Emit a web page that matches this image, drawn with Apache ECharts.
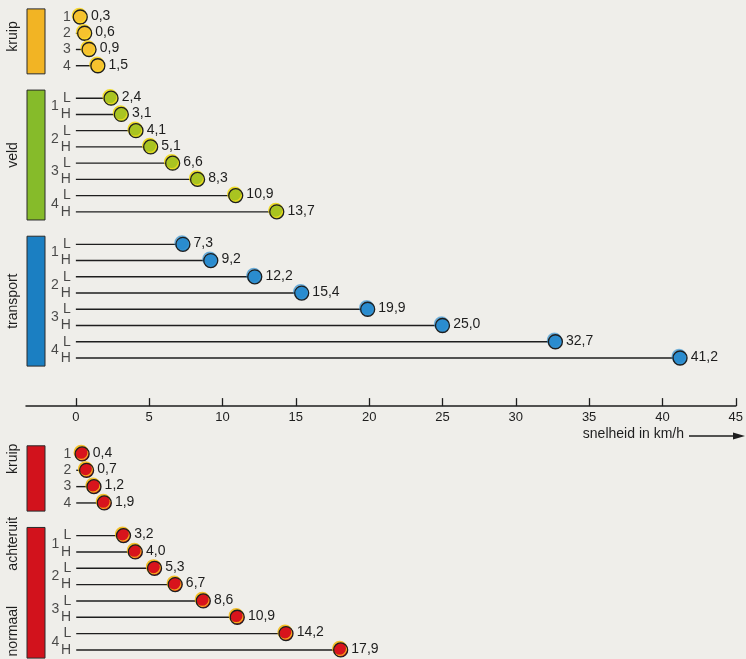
<!DOCTYPE html>
<html>
<head>
<meta charset="utf-8">
<script src="https://cdn.jsdelivr.net/npm/echarts@6/dist/echarts.min.js"></script>
<style>
  html, body { margin: 0; padding: 0; background: #efeeea; }
  #main { width: 746px; height: 659px; }
</style>
</head>
<body>
<div id="main"></div>
<script>
// snelheden in km/h, per versnelling
var speedTicks = [0, 5, 10, 15, 20, 25, 30, 35, 40, 45];
var kruipVooruit = [0.3, 0.6, 0.9, 1.5];
var veld = [2.4, 3.1, 4.1, 5.1, 6.6, 8.3, 10.9, 13.7];
var transport = [7.3, 9.2, 12.2, 15.4, 19.9, 25.0, 32.7, 41.2];
var kruipAchteruit = [0.4, 0.7, 1.2, 1.9];
var normaal = [3.2, 4.0, 5.3, 6.7, 8.6, 10.9, 14.2, 17.9];
var gears = ['1', '2', '3', '4'];
var ranges = ['L', 'H'];

var FONT = '"Liberation Sans", Arial, sans-serif';
var INK = '#1e1e1e';

var myChart = echarts.init(document.getElementById('main'));

function rowsOf(values, startRow) {
    return values.map(function (v, i) { return [v, startRow + i]; });
}

// rij-labels: versnelling en L/H
function gearLabels(startRow, count) {
    return gears.slice(0, count).map(function (g, i) { return { value: [0, startRow + i], name: g, dist: 5 }; });
}
function rangeRowLabels(startRow) {
    var out = [];
    gears.forEach(function (g, i) {
        out.push({ value: [0, startRow + i * 2], name: ranges[0], dist: 5 });
        out.push({ value: [0, startRow + i * 2 + 1], name: ranges[1], dist: 5 });
        out.push({ value: [0, startRow + i * 2 + 0.5], name: g, dist: 17 });
    });
    return out;
}

function stemSeries(data, gridIdx) {
    return {
        type: 'custom',
        xAxisIndex: gridIdx, yAxisIndex: gridIdx,
        clip: false,
        silent: true,
        renderItem: function (params, api) {
            var p0 = api.coord([0, api.value(1)]);
            var p1 = api.coord([api.value(0), api.value(1)]);
            return { type: 'line', shape: { x1: p0[0], y1: p0[1], x2: p1[0], y2: p1[1] },
                style: { stroke: INK, lineWidth: 1.4 } };
        },
        data: data
    };
}

function dotSeries(data, color, shadow, gridIdx) {
    return {
        type: 'scatter',
        xAxisIndex: gridIdx, yAxisIndex: gridIdx,
        symbolSize: 14,
        z: 5,
        itemStyle: { color: color, borderColor: INK, borderWidth: 1.3, opacity: 1,
            shadowColor: shadow, shadowOffsetX: -1, shadowOffsetY: -1.5, shadowBlur: 0 },
        label: {
            show: true, position: 'right', distance: 3, offset: [0, -1],
            color: INK, fontFamily: FONT, fontSize: 14,
            formatter: function (p) { return p.value[0].toFixed(1).replace('.', ','); }
        },
        data: data
    };
}

function labelSeries(data, gridIdx) {
    return {
        type: 'scatter',
        xAxisIndex: gridIdx, yAxisIndex: gridIdx,
        symbolSize: 0,
        silent: true,
        data: data.map(function (d) {
            return { value: d.value, name: d.name,
                label: { show: true, position: 'left', distance: d.dist, formatter: '{b}',
                    color: INK, fontFamily: FONT, fontSize: 14 } };
        })
    };
}

// gekleurde balken met groepsnaam
function sideSeries(groups, gridIdx) {
    return {
        type: 'custom',
        xAxisIndex: gridIdx, yAxisIndex: gridIdx,
        clip: false,
        silent: true,
        renderItem: function (params, api) {
            var g = groups[params.dataIndex];
            var top = api.coord([0, g.from - 0.5])[1];
            var bottom = api.coord([0, g.to + 0.5])[1];
            var children = [{
                type: 'rect',
                shape: { x: 27, y: top, width: 18, height: bottom - top },
                style: { fill: g.color, stroke: '#2a2a2a', lineWidth: 1 }
            }];
            g.texts.forEach(function (t) {
                children.push({
                    type: 'text',
                    x: 13, y: api.coord([0, t[1]])[1],
                    rotation: Math.PI / 2,
                    style: { text: t[0], fill: INK, font: '14px ' + FONT, align: 'center', verticalAlign: 'middle' }
                });
            });
            return { type: 'group', children: children };
        },
        data: groups.map(function (g) { return [g.from, g.to]; })
    };
}

var topGroups = [
    { from: 0, to: 3, color: '#f2b424', texts: [['kruip', 1.2]] },
    { from: 5, to: 12, color: '#86bb2a', texts: [['veld', 8.5]] },
    { from: 14, to: 21, color: '#1b7fc2', texts: [['transport', 17.5]] }
];
var bottomGroups = [
    { from: 0, to: 3, color: '#d2121c', texts: [['kruip', 0.3]] },
    { from: 5, to: 12, color: '#d2121c', texts: [['achteruit', 5.5], ['normaal', 10.85]] }
];

var YELLOW = '#f6c22e', GREEN = '#a9c421', BLUE = '#2a8ccf', RED = '#d8141c';

var option = {
    backgroundColor: '#efeeea',
    animation: false,
    grid: [
        { left: 26, right: 5, top: 8.9, height: 357.2 },
        { left: 26, right: 5, top: 445.8, height: 212.3 }
    ],
    xAxis: [
        {
            gridIndex: 0, type: 'value', min: -3.4, max: 45, offset: 40, position: 'bottom',
            axisLine: { show: true, onZero: false, lineStyle: { color: INK, width: 1.5 } },
            axisTick: { show: true, inside: true, length: 8, lineStyle: { color: INK, width: 1.3 }, customValues: speedTicks },
            axisLabel: { color: INK, fontFamily: FONT, fontSize: 13, margin: 5, customValues: speedTicks },
            splitLine: { show: false }
        },
        { gridIndex: 1, type: 'value', min: -3.4, max: 45, show: false }
    ],
    yAxis: [
        { gridIndex: 0, type: 'value', inverse: true, min: -0.5, max: 21.5, show: false },
        { gridIndex: 1, type: 'value', inverse: true, min: -0.5, max: 12.5, show: false }
    ],
    graphic: [
        { type: 'text', right: 62, top: 427,
          style: { text: 'snelheid in km/h', fill: INK, font: '14px ' + FONT } },
        { type: 'line', shape: { x1: 689, y1: 436, x2: 736, y2: 436 }, style: { stroke: INK, lineWidth: 1.3 } },
        { type: 'polygon', shape: { points: [[745, 436], [733, 432.5], [733, 439.5]] }, style: { fill: INK } }
    ],
    series: [
        sideSeries(topGroups, 0),
        sideSeries(bottomGroups, 1),
        stemSeries(rowsOf(kruipVooruit, 0).concat(rowsOf(veld, 5), rowsOf(transport, 14)), 0),
        stemSeries(rowsOf(kruipAchteruit, 0).concat(rowsOf(normaal, 5)), 1),
        dotSeries(rowsOf(kruipVooruit, 0), YELLOW, 'rgba(250,215,40,0.9)', 0),
        dotSeries(rowsOf(veld, 5), GREEN, 'rgba(240,220,30,0.9)', 0),
        dotSeries(rowsOf(transport, 14), BLUE, 'rgba(60,150,210,0.6)', 0),
        dotSeries(rowsOf(kruipAchteruit, 0), RED, 'rgba(245,190,30,0.9)', 1),
        dotSeries(rowsOf(normaal, 5), RED, 'rgba(245,190,30,0.9)', 1),
        labelSeries(gearLabels(0, 4).concat(rangeRowLabels(5), rangeRowLabels(14)), 0),
        labelSeries(gearLabels(0, 4).concat(rangeRowLabels(5)), 1)
    ]
};

myChart.setOption(option);
window.addEventListener('resize', function () { myChart.resize(); });
</script>
</body>
</html>
